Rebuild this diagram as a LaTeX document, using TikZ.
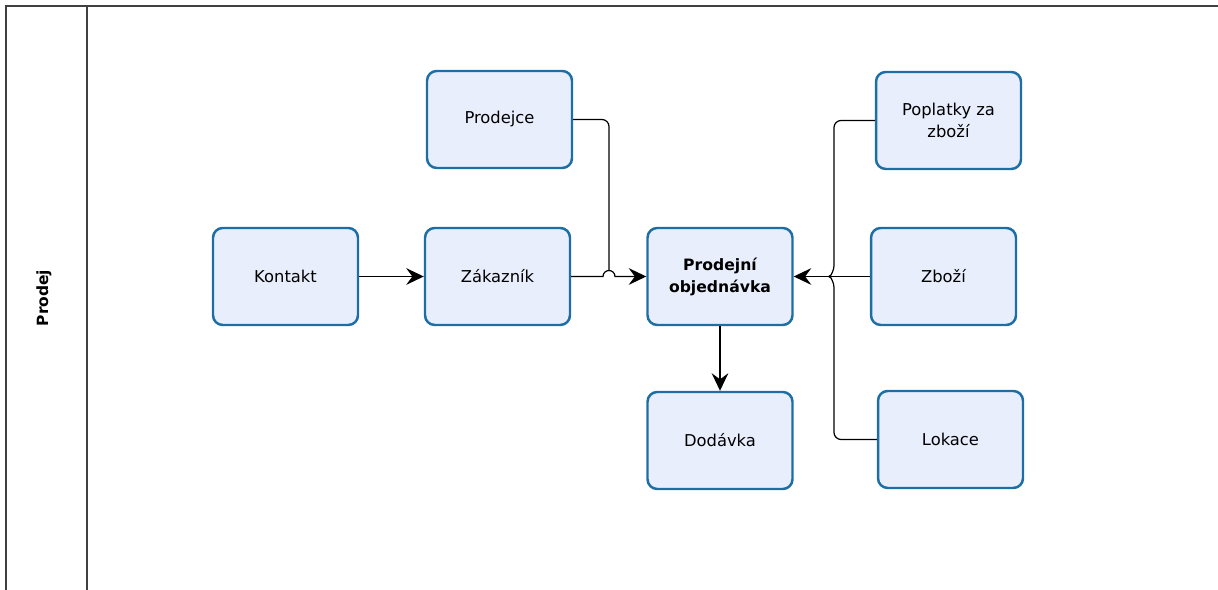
\documentclass[tikz,border=0pt]{standalone}
\usepackage{fontspec}
\setmainfont{DejaVu Sans}
\usetikzlibrary{arrows.meta}
\definecolor{boxfill}{HTML}{E9EEFC}
\definecolor{boxline}{HTML}{1C6EA4}
\begin{document}
\begin{tikzpicture}[x=0.02cm,y=-0.02cm,
  entity/.style={draw=boxline,fill=boxfill,line width=1.4pt,rounded corners=5.5pt,
    minimum width=2.9cm,minimum height=1.94cm,align=center,font=\fontsize{9.3}{12.5}\selectfont},
  conn/.style={draw=black,line width=0.7pt},
  arr/.style={conn,-{Stealth[length=10pt,width=9.5pt,inset=3.5pt]}}]
\useasboundingbox (0,0) rectangle (1218,590);
% lane
\draw[line width=0.8pt,black!75] (6,590) -- (6,6) -- (1222,6) (87,6) -- (87,590);
\node[rotate=90,font=\bfseries\fontsize{8.8}{12}\selectfont] (lane) at (44,298) {Prodej};
% entities
\node[entity] (prodejce) at (499.5,119.5) {Prodejce};
\node[entity] (kontakt) at (285.5,276.5) {Kontakt};
\node[entity] (zakaznik) at (497.5,276.5) {Zákazník};
\node[entity,font=\bfseries\fontsize{8.9}{12.5}\selectfont] (objednavka) at (720,276.5) {Prodejní\\objednávka};
\node[entity] (dodavka) at (720,440.5) {Dodávka};
\node[entity] (poplatky) at (948.5,120.5) {Poplatky za\\zboží};
\node[entity] (zbozi) at (943.5,276.5) {Zboží};
\node[entity] (lokace) at (950.5,439.5) {Lokace};
\coordinate (h1) at (603,276.5);
\coordinate (h1top) at (609,270.5);
\coordinate (j2) at (834,276.5);
\coordinate (j2top) at (834,272.5);
\coordinate (j2bot) at (834,280.5);
\coordinate (j2left) at (830,276.5);
% connectors
\draw[arr] (kontakt) -- (zakaznik);
\draw[arr] (zakaznik.east) -- (h1) arc (180:360:6) -- (objednavka.west);
\draw[conn,rounded corners=4pt] (prodejce.east) -| (h1top);
\draw[arr] (objednavka) -- (dodavka);
\draw[arr] (zbozi) -- (objednavka);
\draw[conn] (poplatky.west) [rounded corners=4pt] -| (j2top) [sharp corners] -- (j2left);
\draw[conn] (lokace.west) [rounded corners=4pt] -| (j2bot) [sharp corners] -- (j2left);
\end{tikzpicture}
\end{document}
